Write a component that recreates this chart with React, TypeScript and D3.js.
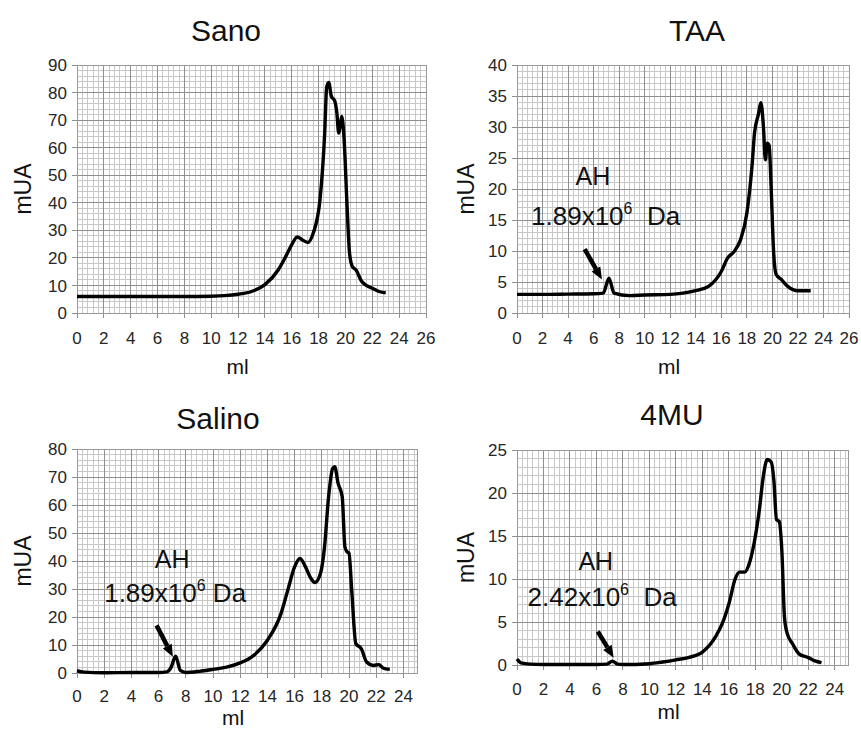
import React, { useEffect, useRef } from 'react';
import * as d3 from 'd3';

// elution volume (ml) and absorbance (mUA)
const sanoMl = [0, 2, 4, 6, 8, 10, 11, 12, 13, 14, 15, 15.6, 16, 16.4, 16.8, 17.2, 17.6, 18.1, 18.45, 18.6, 18.75, 18.95, 19.2, 19.35, 19.5, 19.6, 19.72, 19.9, 20.1, 20.3, 20.5, 20.8, 21.2, 21.55, 22, 22.5, 23];
const sanoUA = [6, 6, 6, 6, 6, 6.1, 6.3, 6.8, 7.8, 10.3, 15.7, 21, 24.8, 27.6, 26.5, 25.6, 29, 41, 65, 82, 83.7, 78.6, 77, 73, 65.3, 67.7, 71.3, 63, 41, 22, 17, 15.5, 11.5, 10, 9, 7.8, 7.3];

const taaMl = [0, 2, 4, 6, 6.75, 7.2, 7.6, 8.8, 10, 12, 13, 14, 15, 16, 16.5, 17, 17.5, 18, 18.4, 18.6, 18.9, 19.1, 19.3, 19.45, 19.6, 19.75, 19.9, 20.1, 20.3, 20.7, 21.2, 22, 23];
const taaUA = [3, 3, 3.05, 3.1, 3.2, 5.6, 3.2, 2.8, 2.9, 3, 3.2, 3.6, 4.3, 6.7, 8.9, 9.9, 11.8, 16.1, 23.6, 29, 32, 33.9, 30, 24.7, 27.4, 27, 20.4, 9.7, 6.2, 5.4, 4.3, 3.6, 3.6];

const salinoMl = [0, 0.5, 2, 4, 6, 6.6, 6.9, 7.25, 7.6, 8, 9, 10, 11, 12, 13, 14, 15, 15.5, 16, 16.4, 16.8, 17.2, 17.5, 17.9, 18.2, 18.5, 18.8, 18.95, 19.2, 19.5, 19.7, 19.85, 20, 20.2, 20.5, 20.9, 21.3, 21.8, 22.2, 22.5, 23];
const salinoUA = [0.8, 0.3, 0.1, 0.2, 0.2, 0.4, 1.8, 6, 0.9, 0.2, 0.6, 1.3, 2.1, 3.6, 6.3, 11.7, 21.2, 29.6, 37.9, 40.9, 37.9, 33.8, 32.3, 35.5, 45, 63, 73.1, 73.7, 67.7, 63, 45, 43.3, 42.8, 29.6, 10.5, 8.7, 3.9, 2.7, 3.0, 1.8, 1.3];

const muMl = [0, 0.3, 1, 2, 4, 6, 6.8, 7.2, 7.6, 8, 10, 11, 12, 13, 14, 15, 15.5, 16, 16.5, 16.8, 17.2, 17.5, 17.9, 18.3, 18.6, 18.9, 19.2, 19.4, 19.6, 19.8, 20, 20.2, 20.4, 20.8, 21.3, 22, 22.5, 23];
const muUA = [0.7, 0.25, 0.1, 0.05, 0.05, 0.05, 0.1, 0.45, 0.1, 0.05, 0.15, 0.35, 0.6, 0.9, 1.5, 3.3, 4.8, 7.1, 10.1, 10.8, 10.8, 11.6, 14.1, 18, 21.9, 23.9, 23.6, 21.5, 16.9, 16.7, 13.4, 5.6, 3.7, 2.5, 1.3, 0.86, 0.47, 0.27];

const titles = ['Sano', 'TAA', 'Salino', '4MU'];
const xMaxes = [26, 26, 25, 25];
const yMaxes = [90, 40, 80, 25];
const ySteps = [10, 5, 10, 5];

// AH annotations: label lines and arrow, in data units
type Note = { mass: string; gap: string; ahX: number; ahY: number; labX: number; labY: number; from: [number, number]; to: [number, number] };
const notes: (Note | null)[] = [
  null,
  { mass: '1.89', gap: '\u00a0\u00a0Da', ahX: 5.95, ahY: 20.6, labX: 1.1, labY: 14.2, from: [5.3, 10.3], to: [6.65, 5.4] },
  { mass: '1.89', gap: '\u00a0Da', ahX: 7.0, ahY: 37.6, labX: 2.0, labY: 25.3, from: [5.85, 17], to: [7.05, 5.8] },
  { mass: '2.42', gap: '\u00a0\u00a0Da', ahX: 5.95, ahY: 11.1, labX: 0.8, labY: 6.9, from: [6.1, 3.9], to: [7.3, 0.85] },
];

const FONT = 'Arial, "Liberation Sans", sans-serif';

const layouts = [
  { left: 77, right: 426, top: 65, bottom: 313, titleX: 226, titleY: 41, yTitleX: 31, xTitleY: 374, tickGap: 31 },
  { left: 517, right: 849, top: 65, bottom: 313, titleX: 697, titleY: 41, yTitleX: 474, xTitleY: 374, tickGap: 31 },
  { left: 77, right: 417, top: 449, bottom: 673, titleX: 218, titleY: 429, yTitleX: 31, xTitleY: 725, tickGap: 29 },
  { left: 517, right: 848, top: 450, bottom: 665, titleX: 672, titleY: 425, yTitleX: 474, xTitleY: 719, tickGap: 30 },
];

const series = [
  [sanoMl, sanoUA],
  [taaMl, taaUA],
  [salinoMl, salinoUA],
  [muMl, muUA],
];

function drawPanel(g: d3.Selection<SVGGElement, unknown, null, undefined>, i: number) {
  const L = layouts[i];
  const x = d3.scaleLinear().domain([0, xMaxes[i]]).range([L.left, L.right]);
  const y = d3.scaleLinear().domain([0, yMaxes[i]]).range([L.bottom, L.top]);
  const xStep = 2;
  const yStep = ySteps[i];

  const minorX = d3.range(0, xMaxes[i] + 1e-6, xStep / 5);
  const minorY = d3.range(0, yMaxes[i] + 1e-6, yStep / 5);
  const majorX = d3.range(0, xMaxes[i] + 1e-6, xStep);
  const majorY = d3.range(0, yMaxes[i] + 1e-6, yStep);

  g.append('rect')
    .attr('x', L.left).attr('y', L.top)
    .attr('width', L.right - L.left).attr('height', L.bottom - L.top)
    .attr('fill', '#fff');

  const grid = g.append('g').attr('shape-rendering', 'crispEdges');
  grid.selectAll('line.mx').data(minorX).join('line')
    .attr('x1', (d) => x(d)).attr('x2', (d) => x(d))
    .attr('y1', L.top).attr('y2', L.bottom)
    .attr('stroke', '#c8c8c8');
  grid.selectAll('line.my').data(minorY).join('line')
    .attr('y1', (d) => y(d)).attr('y2', (d) => y(d))
    .attr('x1', L.left).attr('x2', L.right)
    .attr('stroke', '#c8c8c8');
  const maj = g.append('g').attr('shape-rendering', 'crispEdges');
  maj.selectAll('line.Mx').data(majorX).join('line')
    .attr('x1', (d) => x(d)).attr('x2', (d) => x(d))
    .attr('y1', L.top).attr('y2', L.bottom + 5)
    .attr('stroke', '#8e8e8e');
  maj.selectAll('line.My').data(majorY).join('line')
    .attr('y1', (d) => y(d)).attr('y2', (d) => y(d))
    .attr('x1', L.left - 5).attr('x2', L.right)
    .attr('stroke', '#8e8e8e');
  g.append('rect')
    .attr('x', L.left).attr('y', L.top)
    .attr('width', L.right - L.left).attr('height', L.bottom - L.top)
    .attr('fill', 'none').attr('stroke', '#999').attr('shape-rendering', 'crispEdges');

  // tick labels
  g.selectAll('text.xt').data(majorX).join('text')
    .attr('x', (d) => x(d)).attr('y', L.bottom + L.tickGap)
    .attr('text-anchor', 'middle')
    .attr('font-size', 17).attr('font-family', FONT).attr('fill', '#262626')
    .text((d) => d);
  g.selectAll('text.yt').data(majorY).join('text')
    .attr('x', L.left - 10).attr('y', (d) => y(d))
    .attr('dy', '0.36em')
    .attr('text-anchor', 'end')
    .attr('font-size', 17).attr('font-family', FONT).attr('fill', '#262626')
    .text((d) => d);

  // titles
  g.append('text')
    .attr('x', L.titleX).attr('y', L.titleY)
    .attr('text-anchor', 'middle')
    .attr('font-size', 30).attr('font-family', FONT).attr('fill', '#111')
    .text(titles[i]);
  g.append('text')
    .attr('transform', `translate(${L.yTitleX},${(L.top + L.bottom) / 2}) rotate(-90)`)
    .attr('text-anchor', 'middle')
    .attr('font-size', 23).attr('font-family', FONT).attr('fill', '#111')
    .text('mUA');
  g.append('text')
    .attr('x', (L.left + L.right) / 2 - 14).attr('y', L.xTitleY)
    .attr('text-anchor', 'middle')
    .attr('font-size', 21).attr('font-family', FONT).attr('fill', '#111')
    .text('ml');

  // trace
  const [mls, uas] = series[i];
  const pts = mls.map((m, k) => [m, uas[k]] as [number, number]);
  const line = d3.line<[number, number]>()
    .x((d) => x(d[0])).y((d) => y(d[1]))
    .curve(d3.curveMonotoneX);
  g.append('path')
    .attr('d', line(pts))
    .attr('fill', 'none')
    .attr('stroke', '#000')
    .attr('stroke-width', 3.4)
    .attr('stroke-linejoin', 'round');

  const n = notes[i];
  if (!n) return;
  g.append('text')
    .attr('x', x(n.ahX)).attr('y', y(n.ahY))
    .attr('text-anchor', 'middle')
    .attr('font-size', 25).attr('font-family', FONT).attr('fill', '#111')
    .text('AH');
  const lab = g.append('text')
    .attr('x', x(n.labX)).attr('y', y(n.labY))
    .attr('font-size', 26).attr('font-family', FONT).attr('fill', '#111');
  lab.append('tspan').text(`${n.mass}x10`);
  lab.append('tspan').attr('font-size', 16).attr('dy', -11).text('6');
  lab.append('tspan').attr('dy', 11).text(n.gap);

  const x0 = x(n.from[0]), y0 = y(n.from[1]);
  const x1 = x(n.to[0]), y1 = y(n.to[1]);
  const len = Math.hypot(x1 - x0, y1 - y0);
  const ux = (x1 - x0) / len, uy = (y1 - y0) / len;
  const head = 12, hw = 5;
  const bx = x1 - ux * head, by = y1 - uy * head;
  g.append('line')
    .attr('x1', x0).attr('y1', y0).attr('x2', bx).attr('y2', by)
    .attr('stroke', '#000').attr('stroke-width', 4.5);
  g.append('path')
    .attr('d', `M${x1},${y1}L${bx - uy * hw},${by + ux * hw}L${bx + uy * hw},${by - ux * hw}Z`)
    .attr('fill', '#000');
}

export default function App() {
  const ref = useRef<SVGSVGElement>(null);
  useEffect(() => {
    const svg = d3.select(ref.current);
    svg.selectAll('*').remove();
    titles.forEach((_, i) => {
      const g = svg.append('g') as unknown as d3.Selection<SVGGElement, unknown, null, undefined>;
      drawPanel(g, i);
    });
  }, []);
  return (
    <svg
      ref={ref}
      width={861}
      height={729}
      style={{ position: 'absolute', left: 0, top: 0, background: '#fff' }}
    />
  );
}
